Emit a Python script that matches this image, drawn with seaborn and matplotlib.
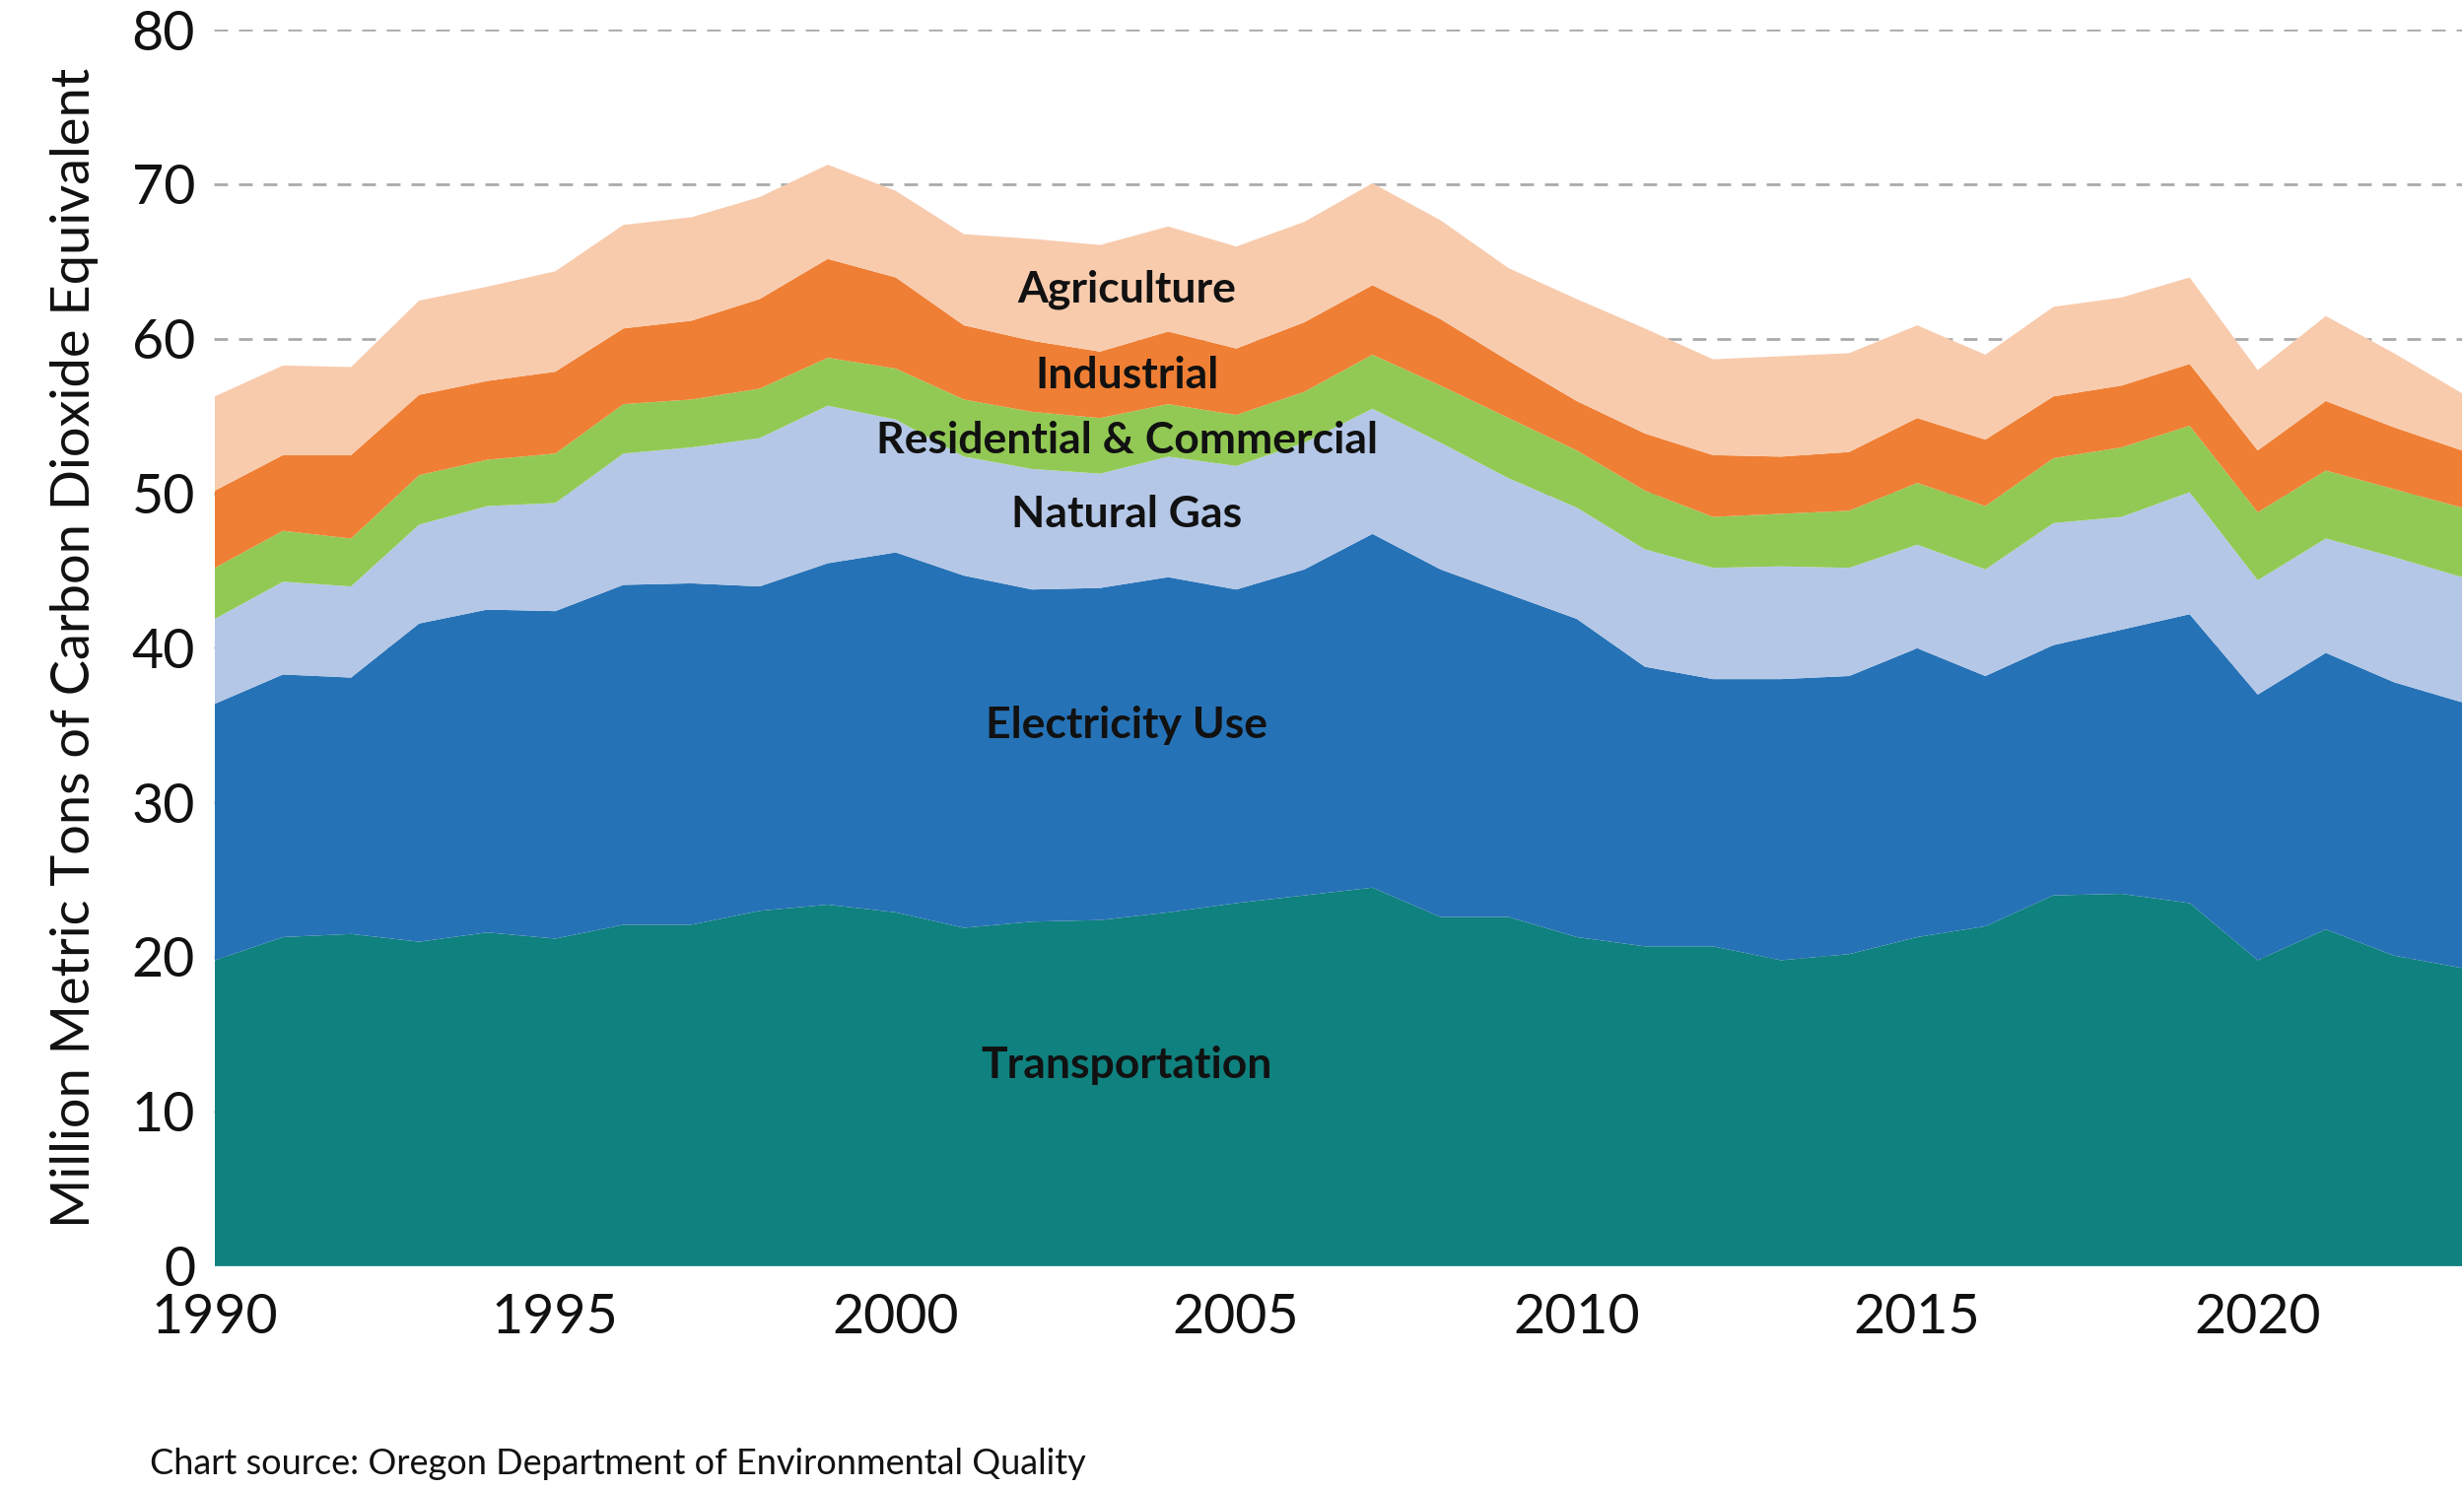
import numpy as np
import matplotlib
matplotlib.use("Agg")
import matplotlib.pyplot as plt
import seaborn as sns

years = list(range(1990, 2024))
# cumulative tops of each band (million metric tons CO2e)
transport_top = [19.8, 21.3, 21.5, 21.0, 21.6, 21.2, 22.1, 22.1, 23.0, 23.4, 22.9, 21.9, 22.3, 22.4, 22.9, 23.5, 24.0, 24.5, 22.6, 22.6, 21.3, 20.7, 20.7, 19.8, 20.2, 21.3, 22.0, 24.0, 24.1, 23.5, 19.8, 21.8, 20.1, 19.3]
electricity_top = [36.4, 38.3, 38.1, 41.6, 42.5, 42.4, 44.1, 44.2, 44.0, 45.5, 46.2, 44.7, 43.8, 43.9, 44.6, 43.8, 45.1, 47.4, 45.1, 43.5, 41.9, 38.8, 38.0, 38.0, 38.2, 40.0, 38.2, 40.2, 41.2, 42.2, 37.0, 39.7, 37.8, 36.5]
natgas_top = [41.9, 44.3, 44.0, 48.0, 49.2, 49.4, 52.6, 53.0, 53.6, 55.7, 54.8, 52.4, 51.6, 51.3, 52.4, 51.8, 53.3, 55.5, 53.3, 51.0, 49.1, 46.4, 45.2, 45.3, 45.2, 46.7, 45.1, 48.1, 48.5, 50.1, 44.4, 47.1, 45.9, 44.6]
rescom_top = [45.2, 47.6, 47.1, 51.2, 52.2, 52.6, 55.8, 56.1, 56.8, 58.8, 58.1, 56.1, 55.3, 54.9, 55.8, 55.1, 56.6, 59.0, 57.0, 54.9, 52.8, 50.2, 48.5, 48.7, 48.9, 50.7, 49.2, 52.3, 53.0, 54.4, 48.8, 51.5, 50.3, 49.1]
industrial_top = [50.2, 52.5, 52.5, 56.4, 57.3, 57.9, 60.7, 61.2, 62.6, 65.2, 64.0, 60.9, 59.9, 59.2, 60.5, 59.4, 61.1, 63.5, 61.3, 58.6, 56.0, 53.9, 52.5, 52.4, 52.7, 54.9, 53.5, 56.3, 57.0, 58.4, 52.8, 56.0, 54.3, 52.8]
agriculture_top = [56.3, 58.3, 58.2, 62.5, 63.4, 64.4, 67.4, 67.9, 69.2, 71.3, 69.6, 66.8, 66.5, 66.1, 67.3, 66.0, 67.6, 70.1, 67.7, 64.6, 62.6, 60.7, 58.7, 58.9, 59.1, 60.9, 59.0, 62.1, 62.7, 64.0, 58.0, 61.5, 59.1, 56.5]

labels = ["Transportation", "Electricity Use", "Natural Gas", "Residential & Commercial", "Industrial", "Agriculture"]
label_y = [13.0, 35.0, 48.6, 53.4, 57.6, 63.2]
colors = ["#0f817e", "#2672b6", "#b4c7e7", "#92c955", "#ef7f34", "#f8cbad"]

sns.set_theme(style="white")
plt.rcParams['font.family'] = ['Lato', 'DejaVu Sans']

fig = plt.figure(figsize=(25, 15.11), dpi=100)
ax = fig.add_axes([0.087, 0.150, 0.912, 0.830])

tops = [transport_top, electricity_top, natgas_top, rescom_top, industrial_top, agriculture_top]
bottom = [0] * len(years)
for top, c in zip(tops, colors):
    ax.fill_between(years, bottom, top, color=c, linewidth=0, zorder=2)
    bottom = top

for lab, ly in zip(labels, label_y):
    ax.text(2003.4, ly, lab, ha="center", va="center", fontsize=32, fontweight="bold", color="#111111", zorder=3)

ax.set_xlim(1990, 2023)
ax.set_ylim(0, 80)
ax.set_yticks(range(0, 81, 10))
ax.set_xticks(range(1990, 2021, 5))
for y in range(10, 81, 10):
    ax.axhline(y, color="#aaaaaa", linestyle=(0, (5, 4)), linewidth=2, zorder=1)
for s in ax.spines.values():
    s.set_visible(False)
ax.tick_params(axis="both", labelsize=40, length=0, colors="#111111")
ax.tick_params(axis="x", pad=20)
ax.tick_params(axis="y", pad=14)
ax.set_ylabel("Million Metric Tons of Carbon Dioxide Equivalent", fontsize=39, color="#111111", labelpad=24)
fig.text(0.061, 0.010, "Chart source: Oregon Department of Environmental Quality", fontsize=26, color="#111111")

fig.savefig("out.png", dpi=100)
